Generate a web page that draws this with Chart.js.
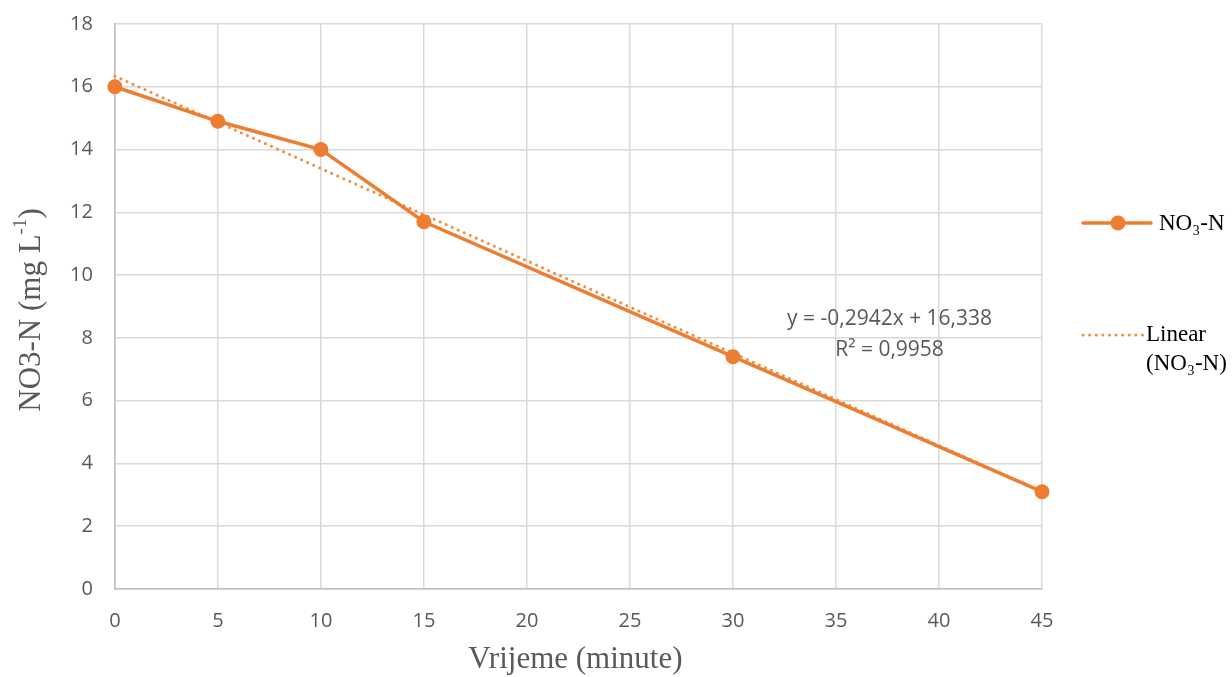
<!DOCTYPE html>
<html><head><meta charset="utf-8">
<script src="https://cdn.jsdelivr.net/npm/chart.js@4"></script>
<style>html,body{margin:0;padding:0;background:#fff}#wrap{width:1232px;height:677px}</style>
</head><body><div id="wrap"><canvas id="c" width="1232" height="677"></canvas></div>
<script>
const times = [0, 5, 10, 15, 30, 45];
const nitrate = [16.0, 14.9, 14.0, 11.7, 7.4, 3.1];
const trendSlope = -0.2942;
const trendIntercept = 16.338;
const trendX = [0, 45];
const seriesName = 'NO\u2083-N';
const trendName = ['Linear', '(NO\u2083-N)'];
const eqLines = ['y = -0,2942x + 16,338', 'R\u00b2 = 0,9958'];
const xTitle = 'Vrijeme (minute)';
const yTitle = ['NO3-N (mg L', '-1', ')'];
const orange = '#ED7D31';
const trendColor = '#F0913F';

const mainPts = times.map((t,i)=>({x:t,y:nitrate[i]}));
const trendPts = trendX.map(t=>({x:t,y:trendIntercept+trendSlope*t}));

const serif = '"Liberation Serif", "Times New Roman", serif';
const sans = '"Open Sans", "Liberation Sans", sans-serif';

const overlay = {
  id:'overlay',
  afterDraw(chart){
    const ctx = chart.ctx, xs = chart.scales.x, ys = chart.scales.y, ca = chart.chartArea;
    ctx.save();
    // equation
    ctx.fillStyle = '#595959';
    ctx.font = '21px ' + sans;
    ctx.textAlign = 'center'; ctx.textBaseline = 'middle';
    const ex = xs.getPixelForValue(37.6);
    ctx.fillText(eqLines[0], ex, ys.getPixelForValue(8.6));
    ctx.fillText(eqLines[1], ex, ys.getPixelForValue(7.6));
    // x title
    ctx.font = '31px ' + serif;
    ctx.fillText(xTitle, (ca.left+ca.right)/2 - 3, 660);
    // y title with superscript
    ctx.save();
    ctx.translate(32, 310);
    ctx.rotate(-Math.PI/2);
    ctx.textBaseline = 'middle'; ctx.textAlign = 'left';
    const big = '31px ' + serif, small = '19px ' + serif;
    ctx.font = big; const w1 = ctx.measureText(yTitle[0]).width;
    ctx.font = small; const ws = ctx.measureText(yTitle[1]).width;
    ctx.font = big; const w2 = ctx.measureText(yTitle[2]).width;
    let x0 = -(w1+ws+w2)/2;
    ctx.fillText(yTitle[0], x0, 0);
    ctx.font = small; ctx.fillText(yTitle[1], x0+w1, -11);
    ctx.font = big; ctx.fillText(yTitle[2], x0+w1+ws, 0);
    ctx.restore();
    // legend
    ctx.font = '23px ' + serif;
    ctx.textAlign='left'; ctx.textBaseline='middle';
    ctx.strokeStyle = orange; ctx.lineWidth = 3.5; ctx.lineCap='round';
    ctx.beginPath(); ctx.moveTo(1083,223); ctx.lineTo(1151,223); ctx.stroke();
    ctx.fillStyle = orange; ctx.beginPath(); ctx.arc(1118,223,7.5,0,Math.PI*2); ctx.fill();
    ctx.fillStyle = '#000';
    ctx.fillText(seriesName, 1159, 224);
    ctx.strokeStyle = trendColor; ctx.lineWidth = 3; ctx.setLineDash([0.1,6.5]);
    ctx.beginPath(); ctx.moveTo(1083,335); ctx.lineTo(1144,335); ctx.stroke();
    ctx.setLineDash([]);
    ctx.fillText(trendName[0], 1146, 335);
    ctx.fillText(trendName[1], 1146, 364);
    ctx.restore();
  }
};

new Chart(document.getElementById('c'), {
  type:'scatter',
  data:{datasets:[
    {label:seriesName, data:mainPts, showLine:true, borderColor:orange, backgroundColor:orange,
     borderWidth:3.5, pointRadius:7.5, pointHoverRadius:7.5, pointBorderWidth:0, order:1, clip:false},
    {label:trendName.join(' '), data:trendPts, showLine:true, borderColor:trendColor,
     borderWidth:3, borderDash:[0.1,6.5], borderCapStyle:'round', pointRadius:0, order:2, clip:false}
  ]},
  options:{
    responsive:false, animation:false,
    layout:{padding:{left:48,right:190,top:24,bottom:24}},
    plugins:{legend:{display:false}, tooltip:{enabled:false}},
    scales:{
      x:{type:'linear', min:0, max:45,
         ticks:{stepSize:5, color:'#595959', padding:20, font:{family:sans, size:20}},
         grid:{color:'#d9d9d9', lineWidth:1.5, drawTicks:false},
         border:{color:'#bfbfbf', width:1.5}},
      y:{min:0, max:18,
         afterFit(s){ s.paddingTop = 0; s.paddingBottom = 0; },
         ticks:{stepSize:2, color:'#595959', padding:22, font:{family:sans, size:20}},
         grid:{color:'#d9d9d9', lineWidth:1.5, drawTicks:false},
         border:{color:'#bfbfbf', width:1.5}}
    }
  },
  plugins:[overlay]
});
</script></body></html>
